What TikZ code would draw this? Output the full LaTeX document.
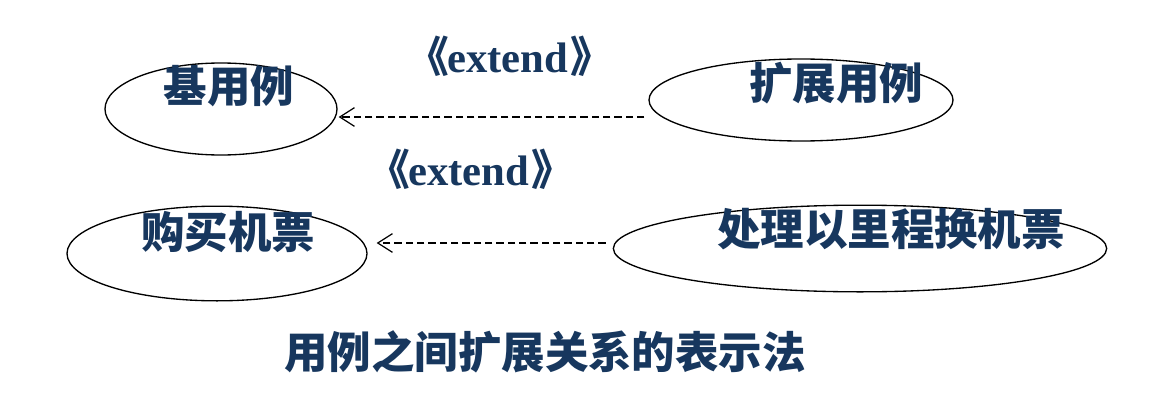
\documentclass[tikz,border=0pt]{standalone}
\usepackage{fontspec}
\setmainfont{Liberation Serif}
\newfontfamily\cjk{Noto Sans CJK SC}
\usepackage{xcolor}
\usepackage{tikz}
\usetikzlibrary{positioning,calc,shapes.geometric,arrows.meta}
\definecolor{navy}{HTML}{17375E}

\begin{document}
\begin{tikzpicture}[
	x=0.75pt, y=-0.75pt, % 1 unit = 1 px of the slide
	usecase/.style={
		draw=black, line width=1pt,
		ellipse, inner sep=0pt,
		anchor=center
	},
	uclabel/.style={
		font=\cjk\bfseries\fontsize{32.6}{33}\selectfont,
		text=navy, inner sep=0pt
	},
	stereo/.style={
		font=\bfseries\fontsize{32}{32}\selectfont,
		text=navy, inner sep=0pt
	},
	dep/.style={
		-{Straight Barb[length=11pt,width=14pt]},
		line width=0.9pt, dash pattern=on 5.5pt off 3pt
	}
	]
	\useasboundingbox (0,0) rectangle (1162,410);
	
	% Ellipsen (use cases)
	\node[usecase, minimum width=174pt, minimum height=69pt] (base) at (221,109) {};
	\node[usecase, minimum width=228pt, minimum height=61.5pt] (ext) at (801,100) {};
	\node[usecase, minimum width=225pt, minimum height=71pt] (buy) at (217,253.5) {};
	\node[usecase, minimum width=370pt, minimum height=65pt] (miles) at (860,248.5) {};
	
	% Namen
	\node[uclabel] (lbase) at (229,86) {基用例};
	\node[uclabel] (lext) at (836,83) {扩展用例};
	\node[uclabel] (lbuy) at (228,232) {购买机票};
	\node[uclabel] (lmiles) at (891,229) {处理以里程换机票};
	
	% extend-Pfeile
	\draw[dep] ([shift={(-4,17)}]ext.west) -- ([shift={(1,8)}]base.east);
	\draw[dep] ([shift={(-7,-5.5)}]miles.west) -- ([shift={(9,-10.5)}]buy.east);
	
	\node[stereo] (s1) at (510,56) {\kern-0.45em{\cjk 《}\kern-0.05em extend\kern0.05em{\cjk 》}\kern-0.45em};
	\node[stereo] (s2) at (471,169) {\kern-0.45em{\cjk 《}\kern-0.05em extend\kern0.05em{\cjk 》}\kern-0.45em};
	
	% Titel
	\node[uclabel] (title) at (545,352) {用例之间扩展关系的表示法};
	
\end{tikzpicture}
\end{document}
